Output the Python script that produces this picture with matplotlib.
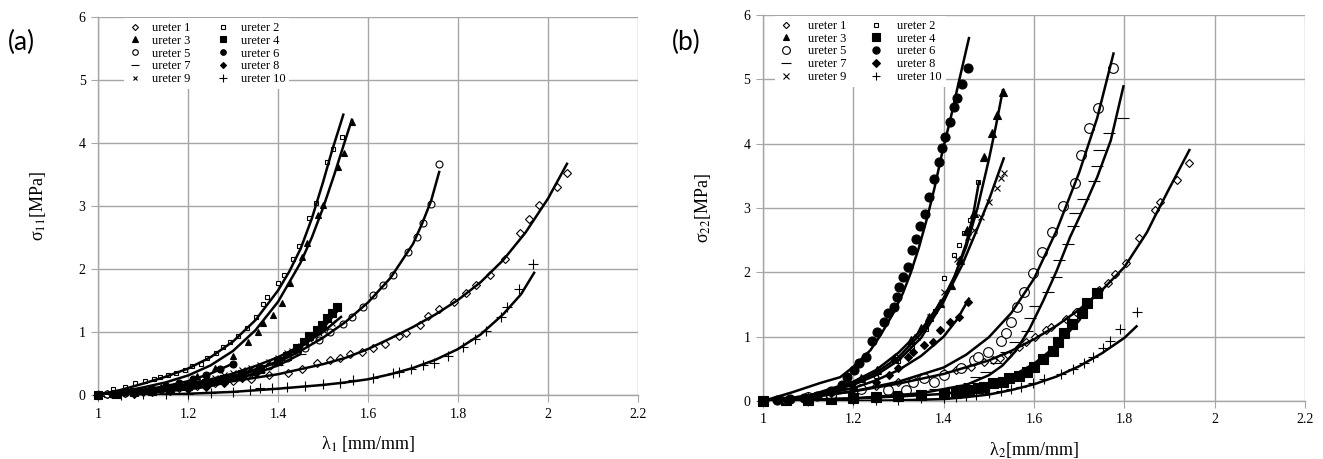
import matplotlib
matplotlib.use("Agg")
import matplotlib.pyplot as plt

plt.rcParams["font.family"] = ["Liberation Serif", "DejaVu Serif"]
plt.rcParams["mathtext.fontset"] = "stix"

# ---------------- panel (a): sigma_11 vs lambda_1 ----------------
a1_x = [1.02, 1.06, 1.10, 1.14, 1.18, 1.22, 1.26, 1.30, 1.34, 1.38, 1.422, 1.453, 1.487, 1.516,
        1.538, 1.56, 1.587, 1.611, 1.638, 1.669, 1.684, 1.716, 1.733, 1.758, 1.791, 1.818, 1.84,
        1.871, 1.904, 1.938, 1.958, 1.98, 2.02, 2.042]
a1_y = [0.01, 0.03, 0.05, 0.08, 0.11, 0.15, 0.19, 0.22, 0.26, 0.31, 0.35, 0.41, 0.51, 0.56,
        0.59, 0.65, 0.68, 0.74, 0.81, 0.94, 0.98, 1.11, 1.25, 1.36, 1.48, 1.62, 1.75,
        1.90, 2.16, 2.57, 2.79, 3.02, 3.30, 3.52]
a1_fx = [1.0, 1.1, 1.2, 1.3, 1.4, 1.5, 1.55, 1.6, 1.65, 1.7, 1.75, 1.8, 1.85, 1.9, 1.95, 2.0, 2.042]
a1_fy = [0.0, 0.04, 0.12, 0.22, 0.33, 0.49, 0.59, 0.73, 0.90, 1.08, 1.28, 1.51, 1.79, 2.14, 2.58,
         3.12, 3.67]

a2_x = [1.01, 1.033, 1.06, 1.082, 1.104, 1.124, 1.138, 1.156, 1.173, 1.193, 1.209, 1.229, 1.242,
        1.262, 1.278, 1.293, 1.311, 1.331, 1.351, 1.367, 1.375, 1.40, 1.413, 1.433, 1.447, 1.469,
        1.484, 1.509, 1.522, 1.542]
a2_y = [0.02, 0.09, 0.12, 0.19, 0.23, 0.26, 0.29, 0.32, 0.35, 0.40, 0.46, 0.50, 0.58,
        0.67, 0.76, 0.84, 0.94, 1.06, 1.24, 1.45, 1.56, 1.78, 1.90, 2.16, 2.37, 2.81,
        3.05, 3.70, 3.90, 4.10]
a2_fx = [1.0, 1.05, 1.1, 1.15, 1.2, 1.25, 1.3, 1.35, 1.4, 1.425, 1.45, 1.475, 1.5, 1.52, 1.535,
         1.545]
a2_fy = [0.0, 0.08, 0.18, 0.29, 0.42, 0.60, 0.85, 1.19, 1.66, 1.96, 2.32, 2.80, 3.38, 3.88, 4.22,
         4.45]

a3_x = [1.02, 1.06, 1.10, 1.14, 1.18, 1.22, 1.26, 1.30, 1.333, 1.356, 1.367, 1.389, 1.409, 1.427,
        1.453, 1.464, 1.489, 1.50, 1.533, 1.547, 1.564]
a3_y = [0.01, 0.04, 0.08, 0.13, 0.19, 0.30, 0.43, 0.62, 0.84, 1.00, 1.14, 1.27, 1.46, 1.78,
        2.19, 2.41, 2.86, 3.02, 3.62, 3.84, 4.33]
a3_fx = [1.0, 1.05, 1.1, 1.15, 1.2, 1.25, 1.3, 1.35, 1.4, 1.45, 1.475, 1.5, 1.525, 1.545, 1.564]
a3_fy = [0.0, 0.05, 0.12, 0.20, 0.31, 0.47, 0.70, 1.03, 1.48, 2.10, 2.50, 2.97, 3.50, 3.95, 4.37]

a4_x = [1.0, 1.04, 1.08, 1.12, 1.16, 1.20, 1.24, 1.28, 1.32, 1.36, 1.40, 1.42, 1.442, 1.458,
        1.469, 1.487, 1.498, 1.509, 1.52, 1.531]
a4_y = [0.0, 0.02, 0.04, 0.07, 0.10, 0.14, 0.19, 0.25, 0.33, 0.42, 0.54, 0.62, 0.75, 0.84,
        0.94, 1.03, 1.11, 1.22, 1.30, 1.40]
a4_fx = [1.0, 1.1, 1.2, 1.25, 1.3, 1.35, 1.4, 1.45, 1.5, 1.535]
a4_fy = [0.0, 0.05, 0.13, 0.19, 0.28, 0.39, 0.54, 0.76, 1.06, 1.36]

a5_x = [1.02, 1.06, 1.10, 1.14, 1.18, 1.22, 1.26, 1.30, 1.34, 1.38, 1.42, 1.46, 1.49, 1.516,
        1.544, 1.564, 1.589, 1.611, 1.633, 1.656, 1.689, 1.709, 1.722, 1.74, 1.758]
a5_y = [0.01, 0.03, 0.06, 0.09, 0.13, 0.17, 0.23, 0.30, 0.37, 0.46, 0.58, 0.74, 0.88, 1.00,
        1.13, 1.24, 1.40, 1.58, 1.75, 1.90, 2.27, 2.51, 2.73, 3.03, 3.67]
a5_fx = [1.0, 1.1, 1.2, 1.3, 1.4, 1.45, 1.5, 1.55, 1.6, 1.65, 1.7, 1.72, 1.74, 1.758]
a5_fy = [0.0, 0.05, 0.14, 0.30, 0.52, 0.70, 0.91, 1.16, 1.47, 1.86, 2.40, 2.72, 3.08, 3.54]

a6_x = [1.0, 1.03, 1.06, 1.09, 1.12, 1.15, 1.18, 1.21, 1.24, 1.27, 1.30]
a6_y = [0.0, 0.02, 0.04, 0.07, 0.10, 0.14, 0.19, 0.25, 0.32, 0.41, 0.50]
a6_fx = [1.0, 1.05, 1.1, 1.15, 1.2, 1.25, 1.3]
a6_fy = [0.0, 0.035, 0.08, 0.14, 0.22, 0.34, 0.50]

a7_x = [1.0, 1.04, 1.08, 1.12, 1.16, 1.20, 1.24, 1.28, 1.32, 1.36, 1.40, 1.45]
a7_y = [0.0, 0.01, 0.03, 0.05, 0.08, 0.12, 0.16, 0.22, 0.29, 0.37, 0.48, 0.65]
a7_fx = [1.0, 1.1, 1.2, 1.25, 1.3, 1.35, 1.4, 1.45]
a7_fy = [0.0, 0.04, 0.12, 0.18, 0.25, 0.34, 0.47, 0.65]

a8_x = [1.0, 1.04, 1.08, 1.12, 1.16, 1.20, 1.24, 1.28, 1.32, 1.35]
a8_y = [0.0, 0.01, 0.02, 0.04, 0.06, 0.09, 0.13, 0.19, 0.27, 0.35]
a8_fx = [1.0, 1.1, 1.2, 1.25, 1.3, 1.35]
a8_fy = [0.0, 0.03, 0.09, 0.14, 0.23, 0.35]

a9_x = [1.0, 1.05, 1.10, 1.15, 1.20, 1.22, 1.24, 1.26, 1.28, 1.30, 1.32, 1.34, 1.36, 1.38,
        1.40, 1.42, 1.43, 1.44, 1.45, 1.46, 1.47, 1.48, 1.49, 1.50, 1.52]
a9_y = [0.0, 0.03, 0.07, 0.12, 0.18, 0.21, 0.24, 0.27, 0.31, 0.35, 0.39, 0.43, 0.48, 0.53,
        0.59, 0.66, 0.70, 0.74, 0.78, 0.83, 0.88, 0.93, 0.98, 1.03, 1.15]
a9_fx = [1.0, 1.1, 1.2, 1.25, 1.3, 1.35, 1.4, 1.45, 1.5, 1.54]
a9_fy = [0.0, 0.06, 0.17, 0.25, 0.34, 0.46, 0.60, 0.78, 1.00, 1.24]

a10_x = [1.0, 1.05, 1.10, 1.15, 1.20, 1.25, 1.30, 1.338, 1.36, 1.387, 1.42, 1.46, 1.50, 1.538,
         1.567, 1.611, 1.656, 1.669, 1.695, 1.723, 1.747, 1.778, 1.811, 1.838, 1.862, 1.896,
         1.908, 1.936, 1.967]
a10_y = [0.0, 0.0, 0.01, 0.01, 0.02, 0.03, 0.05, 0.08, 0.11, 0.11, 0.13, 0.14, 0.17, 0.19,
         0.24, 0.27, 0.35, 0.37, 0.41, 0.48, 0.51, 0.62, 0.76, 0.89, 1.02, 1.24,
         1.40, 1.68, 2.08]
a10_fx = [1.0, 1.1, 1.2, 1.3, 1.4, 1.5, 1.55, 1.6, 1.65, 1.7, 1.75, 1.8, 1.85, 1.9, 1.94, 1.969]
a10_fy = [0.0, 0.0, 0.02, 0.05, 0.10, 0.16, 0.20, 0.25, 0.33, 0.43, 0.56, 0.73, 0.96, 1.28,
          1.60, 1.94]

# ---------------- panel (b): sigma_22 vs lambda_2 ----------------
b1_x = [1.0, 1.05, 1.1, 1.15, 1.2, 1.25, 1.3, 1.35, 1.4, 1.427, 1.442, 1.46, 1.489, 1.509, 1.524,
        1.542, 1.567, 1.582, 1.602, 1.627, 1.638, 1.671, 1.693, 1.744, 1.764, 1.78, 1.804,
        1.833, 1.867, 1.878, 1.916, 1.944]
b1_y = [0.0, 0.03, 0.07, 0.12, 0.18, 0.24, 0.30, 0.38, 0.44, 0.48, 0.51, 0.53, 0.61, 0.64, 0.67,
        0.71, 0.84, 0.92, 0.99, 1.10, 1.15, 1.27, 1.38, 1.72, 1.83, 1.97, 2.15,
        2.53, 2.97, 3.09, 3.44, 3.70]
b1_fx = [1.0, 1.1, 1.2, 1.3, 1.4, 1.5, 1.55, 1.6, 1.65, 1.7, 1.75, 1.8, 1.85, 1.867, 1.9, 1.944]
b1_fy = [0.0, 0.06, 0.15, 0.27, 0.42, 0.63, 0.78, 0.96, 1.17, 1.42, 1.72, 2.08, 2.62, 2.86,
         3.31, 3.90]

b2_x = [1.0, 1.05, 1.1, 1.15, 1.2, 1.25, 1.3, 1.33, 1.36, 1.38, 1.40, 1.424, 1.433, 1.444,
        1.458, 1.476]
b2_y = [0.0, 0.03, 0.08, 0.15, 0.25, 0.39, 0.62, 0.82, 1.12, 1.40, 1.91, 2.27, 2.42, 2.61,
        2.81, 3.40]
b2_fx = [1.0, 1.1, 1.2, 1.25, 1.3, 1.35, 1.4, 1.425, 1.45, 1.465, 1.478]
b2_fy = [0.0, 0.07, 0.25, 0.40, 0.63, 0.98, 1.55, 1.95, 2.45, 2.88, 3.40]

b3_x = [1.0, 1.05, 1.1, 1.15, 1.216, 1.253, 1.289, 1.327, 1.349, 1.367, 1.393, 1.416, 1.436,
        1.451, 1.467, 1.489, 1.507, 1.518, 1.531]
b3_y = [0.0, 0.03, 0.08, 0.16, 0.36, 0.48, 0.67, 0.95, 1.13, 1.30, 1.52, 1.80, 2.19,
        2.66, 2.92, 3.79, 4.16, 4.44, 4.80]
b3_fx = [1.0, 1.1, 1.2, 1.25, 1.3, 1.35, 1.4, 1.425, 1.45, 1.475, 1.5, 1.515, 1.531]
b3_fy = [0.0, 0.08, 0.30, 0.48, 0.75, 1.10, 1.60, 1.95, 2.40, 3.00, 3.75, 4.25, 4.83]

b4_x = [1.0, 1.05, 1.1, 1.15, 1.2, 1.25, 1.3, 1.35, 1.4, 1.427, 1.438, 1.456, 1.476, 1.489,
        1.509, 1.531, 1.544, 1.567, 1.584, 1.60, 1.62, 1.642, 1.653, 1.667, 1.684, 1.707,
        1.718, 1.74]
b4_y = [0.0, 0.01, 0.02, 0.03, 0.05, 0.06, 0.08, 0.09, 0.11, 0.12, 0.17, 0.17, 0.20, 0.22,
        0.28, 0.30, 0.36, 0.39, 0.45, 0.53, 0.65, 0.78, 0.92, 1.06, 1.20, 1.37,
        1.52, 1.68]
b4_fx = [1.0, 1.1, 1.2, 1.3, 1.4, 1.45, 1.5, 1.55, 1.6, 1.65, 1.7, 1.742]
b4_fy = [0.0, 0.02, 0.04, 0.07, 0.11, 0.16, 0.25, 0.38, 0.58, 0.86, 1.25, 1.74]

b5_x = [1.0, 1.05, 1.1, 1.15, 1.216, 1.276, 1.316, 1.333, 1.356, 1.378, 1.40, 1.438, 1.467,
        1.476, 1.498, 1.527, 1.538, 1.549, 1.562, 1.578, 1.598, 1.618, 1.64, 1.664, 1.691,
        1.704, 1.722, 1.742, 1.776]
b5_y = [0.0, 0.03, 0.06, 0.10, 0.19, 0.17, 0.17, 0.30, 0.36, 0.30, 0.40, 0.51, 0.64,
        0.68, 0.76, 0.93, 1.06, 1.23, 1.46, 1.69, 1.99, 2.31, 2.62, 3.03, 3.39,
        3.82, 4.24, 4.55, 5.17]
b5_fx = [1.0, 1.1, 1.2, 1.3, 1.4, 1.45, 1.5, 1.55, 1.6, 1.65, 1.7, 1.74, 1.776]
b5_fy = [0.0, 0.05, 0.15, 0.30, 0.52, 0.72, 0.99, 1.37, 1.90, 2.65, 3.55, 4.40, 5.40]

b6_x = [1.0, 1.03, 1.06, 1.09, 1.12, 1.15, 1.176, 1.187, 1.202, 1.213, 1.229, 1.242, 1.253,
        1.267, 1.276, 1.289, 1.296, 1.302, 1.311, 1.32, 1.329, 1.338, 1.347, 1.358, 1.367,
        1.378, 1.389, 1.396, 1.404, 1.413, 1.424, 1.429, 1.44, 1.453]
b6_y = [0.0, 0.01, 0.03, 0.05, 0.08, 0.15, 0.25, 0.37, 0.48, 0.59, 0.68, 0.93, 1.07,
        1.23, 1.37, 1.46, 1.61, 1.77, 1.93, 2.08, 2.34, 2.52, 2.72, 2.90, 3.17,
        3.45, 3.71, 3.93, 4.11, 4.33, 4.57, 4.71, 4.92, 5.17]
b6_fx = [1.0, 1.067, 1.127, 1.171, 1.2, 1.238, 1.26, 1.289, 1.31, 1.327, 1.345, 1.364, 1.38,
         1.398, 1.415, 1.431, 1.456]
b6_fy = [0.0, 0.14, 0.28, 0.37, 0.53, 0.79, 1.02, 1.37, 1.68, 1.99, 2.38, 2.86, 3.32,
         3.90, 4.38, 4.88, 5.64]

b7_x = [1.0, 1.1, 1.2, 1.3, 1.38, 1.42, 1.456, 1.471, 1.493, 1.516, 1.538, 1.558, 1.584,
        1.591, 1.602, 1.631, 1.649, 1.656, 1.676, 1.687, 1.691, 1.709, 1.733, 1.74, 1.744,
        1.767, 1.796]
b7_y = [0.0, 0.02, 0.05, 0.10, 0.18, 0.22, 0.28, 0.37, 0.45, 0.59, 0.76, 0.92, 1.09,
        1.29, 1.48, 1.69, 1.93, 2.19, 2.44, 2.72, 2.92, 3.14, 3.42, 3.65, 3.90,
        4.16, 4.40]
b7_fx = [1.0, 1.2, 1.35, 1.45, 1.5, 1.53, 1.56, 1.59, 1.62, 1.65, 1.68, 1.71, 1.74, 1.77, 1.798]
b7_fy = [0.0, 0.04, 0.12, 0.25, 0.40, 0.55, 0.78, 1.12, 1.55, 2.02, 2.55, 3.00, 3.48, 4.05, 4.89]

b8_x = [1.0, 1.05, 1.1, 1.15, 1.2, 1.25, 1.28, 1.30, 1.32, 1.333, 1.356, 1.376, 1.393, 1.413,
        1.433, 1.453]
b8_y = [0.0, 0.02, 0.06, 0.12, 0.20, 0.30, 0.40, 0.52, 0.68, 0.76, 0.87, 0.92, 1.10, 1.23,
        1.30, 1.54]
b8_fx = [1.0, 1.1, 1.2, 1.25, 1.3, 1.35, 1.4, 1.43, 1.456]
b8_fy = [0.0, 0.06, 0.20, 0.32, 0.48, 0.70, 1.00, 1.27, 1.59]

b9_x = [1.0, 1.05, 1.1, 1.15, 1.2, 1.25, 1.3, 1.34, 1.37, 1.40, 1.43, 1.453, 1.467, 1.482,
        1.50, 1.518, 1.527, 1.533]
b9_y = [0.0, 0.03, 0.08, 0.15, 0.26, 0.42, 0.70, 1.00, 1.30, 1.70, 2.20, 2.55, 2.66, 2.86,
        3.09, 3.31, 3.46, 3.54]
b9_fx = [1.0, 1.1, 1.2, 1.25, 1.3, 1.35, 1.4, 1.44, 1.47, 1.5, 1.533]
b9_fy = [0.0, 0.08, 0.27, 0.44, 0.68, 1.05, 1.55, 2.10, 2.60, 3.12, 3.77]

b10_x = [1.0, 1.1, 1.2, 1.25, 1.3, 1.35, 1.4, 1.427, 1.449, 1.471, 1.50, 1.527, 1.549, 1.571,
         1.598, 1.622, 1.66, 1.687, 1.711, 1.731, 1.753, 1.769, 1.791, 1.827]
b10_y = [0.0, 0.0, 0.01, 0.01, 0.02, 0.04, 0.05, 0.06, 0.08, 0.09, 0.12, 0.16, 0.19, 0.22,
         0.28, 0.34, 0.42, 0.50, 0.59, 0.69, 0.82, 0.93, 1.12, 1.38]
b10_fx = [1.0, 1.2, 1.3, 1.4, 1.45, 1.5, 1.55, 1.6, 1.65, 1.7, 1.75, 1.8, 1.827]
b10_fy = [0.0, 0.0, 0.01, 0.03, 0.06, 0.10, 0.17, 0.26, 0.38, 0.54, 0.74, 0.98, 1.16]

LABELS = ["ureter %d" % i for i in range(1, 11)]
X_TICKS = [1, 1.2, 1.4, 1.6, 1.8, 2, 2.2]
X_TICKLABELS = ["1", "1.2", "1.4", "1.6", "1.8", "2", "2.2"]
Y_TICKS = [0, 1, 2, 3, 4, 5, 6]

# marker style per ureter: (marker, facecolor, size in panel a, size in panel b)
STYLES = [
    ("D", "white", 3.8, 4.0),
    ("s", "white", 3.5, 3.5),
    ("^", "black", 5.0, 5.5),
    ("s", "black", 6.0, 6.5),
    ("o", "white", 5.0, 7.0),
    ("o", "black", 5.0, 6.5),
    ("_", "black", 7.0, 9.0),
    ("D", "black", 3.8, 4.5),
    ("x", "black", 4.0, 5.0),
    ("+", "black", 7.0, 7.0),
]

PANEL_A = [(a1_x, a1_y, a1_fx, a1_fy), (a2_x, a2_y, a2_fx, a2_fy), (a3_x, a3_y, a3_fx, a3_fy),
           (a4_x, a4_y, a4_fx, a4_fy), (a5_x, a5_y, a5_fx, a5_fy), (a6_x, a6_y, a6_fx, a6_fy),
           (a7_x, a7_y, a7_fx, a7_fy), (a8_x, a8_y, a8_fx, a8_fy), (a9_x, a9_y, a9_fx, a9_fy),
           (a10_x, a10_y, a10_fx, a10_fy)]
PANEL_B = [(b1_x, b1_y, b1_fx, b1_fy), (b2_x, b2_y, b2_fx, b2_fy), (b3_x, b3_y, b3_fx, b3_fy),
           (b4_x, b4_y, b4_fx, b4_fy), (b5_x, b5_y, b5_fx, b5_fy), (b6_x, b6_y, b6_fx, b6_fy),
           (b7_x, b7_y, b7_fx, b7_fy), (b8_x, b8_y, b8_fx, b8_fy), (b9_x, b9_y, b9_fx, b9_fy),
           (b10_x, b10_y, b10_fx, b10_fy)]

GRID = "#a6a6a6"

fig = plt.figure(figsize=(13.23, 4.59), dpi=100)
ax_a = fig.add_axes([0.0741, 0.1394, 0.4082, 0.8235])
ax_b = fig.add_axes([0.5767, 0.1264, 0.4097, 0.8410])


def draw_panel(ax, series, size_idx, xlabel, ylabel, leg_x, text_pad, col_space):
    handles = []
    for (xs, ys, fx, fy), (mk, fc, sa, sb), lab in zip(series, STYLES, LABELS):
        ms = sa if size_idx == 0 else sb
        h, = ax.plot(xs, ys, linestyle="none", marker=mk, ms=ms, mfc=fc, mec="black",
                     mew=0.8, label=lab, zorder=3, clip_on=False)
        ax.plot(fx, fy, color="black", lw=1.8, zorder=4, solid_joinstyle="round")
        handles.append(h)
    ax.set_xlim(1, 2.2)
    ax.set_ylim(0, 6)
    ax.set_xticks(X_TICKS)
    ax.set_xticklabels(X_TICKLABELS)
    ax.set_yticks(Y_TICKS)
    ax.grid(True, color=GRID, lw=1.0, zorder=0)
    ax.set_axisbelow(True)
    for side in ("top", "right"):
        ax.spines[side].set_visible(False)
    for side in ("left", "bottom"):
        ax.spines[side].set_color(GRID)
        ax.spines[side].set_linewidth(1.0)
    ax.tick_params(direction="out", length=5, color=GRID, labelsize=10, pad=4)
    ax.set_xlabel(xlabel, fontsize=13, labelpad=10)
    ax.set_ylabel(ylabel, fontsize=13, labelpad=22)
    # legend is filled row by row: ureter 1, 2 / 3, 4 / ...
    order = [0, 2, 4, 6, 8, 1, 3, 5, 7, 9]
    leg = ax.legend([handles[i] for i in order], [LABELS[i] for i in order], ncol=2,
                    loc="upper left", bbox_to_anchor=(leg_x, 1.0), fontsize=9,
                    frameon=True, fancybox=False, framealpha=1.0, edgecolor="none",
                    facecolor="white", handlelength=1.2, handletextpad=text_pad,
                    columnspacing=col_space, labelspacing=0.06, borderpad=0.3,
                    borderaxespad=0.1, markerscale=0.8)
    leg.set_zorder(6)


draw_panel(ax_a, PANEL_A, 0, r"λ$_1$ [mm/mm]", r"σ$_{11}$[MPa]", 0.045, 0.8, 2.0)
draw_panel(ax_b, PANEL_B, 1, r"λ$_2$[mm/mm]", r"σ$_{22}$[MPa]", 0.02, 1.1, 1.8)

fig.text(0.006, 0.908, "(a)", fontsize=19, family=["Lato", "DejaVu Sans"], va="center")
fig.text(0.508, 0.908, "(b)", fontsize=19, family=["Lato", "DejaVu Sans"], va="center")

fig.savefig("out.png", dpi=100)
